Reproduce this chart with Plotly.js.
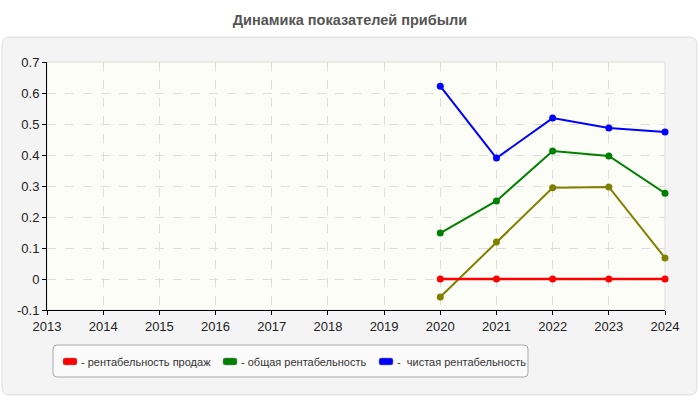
<!DOCTYPE html>
<html>
<head>
<meta charset="utf-8">
<script src="https://cdn.plot.ly/plotly-3.0.1.min.js"></script>
<style>
  body { margin: 0; background: #fff; }
  #chart { width: 700px; height: 400px; }
</style>
</head>
<body>
<div id="chart"></div>
<script>
// data
var years = [2020, 2021, 2022, 2023, 2024];
var salesMargin = [0, 0, 0, 0, 0];
var totalMargin = [0.148, 0.252, 0.413, 0.397, 0.277];
var netMargin = [0.622, 0.39, 0.519, 0.487, 0.474];
var otherMargin = [-0.058, 0.119, 0.294, 0.297, 0.068];
var legendNames = ['- рентабельность продаж', '- общая рентабельность', '-  чистая рентабельность'];
var yTicks = [-0.1, 0, 0.1, 0.2, 0.3, 0.4, 0.5, 0.6, 0.7];
var yTickText = ['-0.1', '0', '0.1', '0.2', '0.3', '0.4', '0.5', '0.6', '0.7'];

// plot box in pixels
var L = 47, R = 665, T = 62, B = 310;
function px(x) { return (x - L) / (R - L); }
function py(y) { return (B - y) / (B - T); }
function roundRect(x0, y0, x1, y1, r) {
  function p(x, y) { return px(x) + ',' + py(y); }
  return 'M' + p(x0 + r, y0) + ' L' + p(x1 - r, y0) + ' Q' + p(x1, y0) + ' ' + p(x1, y0 + r) +
    ' L' + p(x1, y1 - r) + ' Q' + p(x1, y1) + ' ' + p(x1 - r, y1) +
    ' L' + p(x0 + r, y1) + ' Q' + p(x0, y1) + ' ' + p(x0, y1 - r) +
    ' L' + p(x0, y0 + r) + ' Q' + p(x0, y0) + ' ' + p(x0 + r, y0) + ' Z';
}

function line(y, color, w) {
  return {
    x: years, y: y, type: 'scatter', mode: 'lines+markers',
    line: {color: color, width: w},
    marker: {color: color, size: 7},
    cliponaxis: false,
    showlegend: false, hoverinfo: 'skip'
  };
}

var data = [
  line(otherMargin, '#808000', 2),
  line(totalMargin, '#008000', 2),
  line(netMargin, '#0000ff', 2),
  line(salesMargin, '#ff0000', 2.5)
];

var colors = ['#ff0000', '#008000', '#0000ff'];
var swatchX = [63, 223, 379];

var shapes = [
  {type: 'path', xref: 'paper', yref: 'paper', path: roundRect(2, 37, 697, 395, 8),
   fillcolor: '#f4f4f4', line: {color: '#dddddd', width: 1}, layer: 'below'},
  {type: 'rect', xref: 'paper', yref: 'paper', x0: 0, x1: 1, y0: 0, y1: 1,
   fillcolor: '#fdfdf8', line: {color: '#dddddd', width: 1}, layer: 'below'},
  {type: 'path', xref: 'paper', yref: 'paper', path: roundRect(53, 345, 528, 377, 4),
   fillcolor: '#fafafa', line: {color: '#aaaaaa', width: 1}, layer: 'below'}
];
var annotations = [];
legendNames.forEach(function (name, i) {
  shapes.push({type: 'path', xref: 'paper', yref: 'paper',
    path: roundRect(swatchX[i], 358, swatchX[i] + 14, 365, 2),
    fillcolor: colors[i], line: {color: '#888888', width: 0.5}, layer: 'above'});
  annotations.push({xref: 'paper', yref: 'paper', x: px(swatchX[i] + 16), y: py(361.5),
    xanchor: 'left', yanchor: 'middle', showarrow: false, text: name,
    font: {family: 'Liberation Sans, Arial, sans-serif', size: 11, color: '#333'}});
});

var layout = {
  width: 700, height: 400,
  margin: {l: L, r: 700 - R, t: T, b: 400 - B},
  paper_bgcolor: '#ffffff',
  plot_bgcolor: 'rgba(0,0,0,0)',
  font: {family: 'Liberation Sans, Arial, sans-serif', size: 13, color: '#222'},
  title: {text: '<b>Динамика показателей прибыли</b>', x: 0.5, xref: 'container',
    y: 1 - 20 / 400, yref: 'container', yanchor: 'middle',
    font: {family: 'Liberation Sans, Arial, sans-serif', size: 14.5, color: '#555'}},
  xaxis: {range: [2013, 2024], dtick: 1, tick0: 2013, showline: true, linecolor: '#000',
    ticks: 'outside', ticklen: 4, tickcolor: '#000', showgrid: true, gridcolor: '#dddddd',
    griddash: 'dash', zeroline: false, fixedrange: true},
  yaxis: {range: [-0.1, 0.7], tickvals: yTicks, ticktext: yTickText, showline: true,
    linecolor: '#000', ticks: 'outside', ticklen: 4, tickcolor: '#000', showgrid: true,
    gridcolor: '#dddddd', griddash: 'dash', zeroline: false, fixedrange: true},
  shapes: shapes,
  annotations: annotations,
  showlegend: false
};

Plotly.newPlot('chart', data, layout, {displayModeBar: false, staticPlot: true});
</script>
</body>
</html>
